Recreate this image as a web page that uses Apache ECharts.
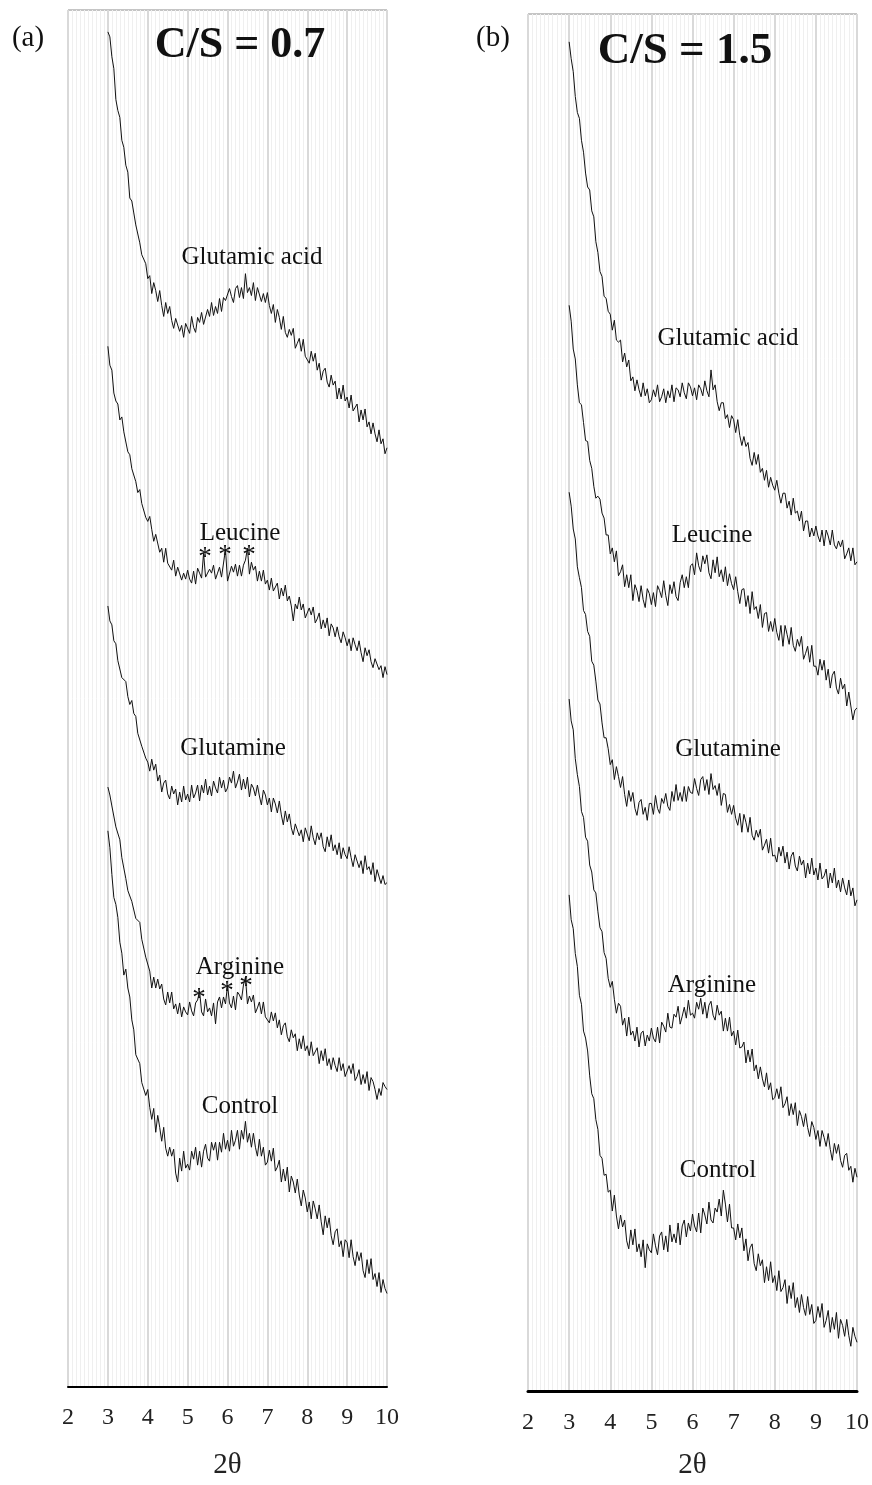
<!DOCTYPE html>
<html>
<head>
<meta charset="utf-8">
<script src="https://cdn.jsdelivr.net/npm/echarts@6/dist/echarts.min.js"></script>
<style>
  html, body { margin: 0; padding: 0; background: #fff; }
  #chart { width: 872px; height: 1485px; }
</style>
</head>
<body>
<div id="chart"></div>
<script>
// XRD scans, 2θ = 3.00 … 10.00 in 0.05° steps, intensity in arbitrary units (stacked)
const SCAN_START = 3.0, SCAN_STEP = 0.05, SCAN_POINTS = 141;
const twoTheta = Array.from({ length: SCAN_POINTS }, (_, i) => +(SCAN_START + i * SCAN_STEP).toFixed(2));
const xTicks = [2, 3, 4, 5, 6, 7, 8, 9, 10];

// ---- C/S = 0.7 ----
const glutamicA = [
1362,1357,1337,1325,1294,1283,1276,1253,1246,1228,1221,1195,1192,1180,1168,1167,1150,1138,1140,1129,
1114,1117,1099,1110,1102,1091,1102,1087,1076,1090,1079,1086,1072,1064,1074,1076,1061,1067,1055,1069,
1068,1059,1076,1065,1060,1075,1070,1080,1068,1066,1083,1076,1090,1077,1086,1079,1094,1081,1095,1092,
1090,1104,1096,1090,1104,1107,1095,1105,1094,1119,1100,1105,1097,1110,1092,1105,1107,1091,1099,1090,
1100,1087,1079,1088,1070,1083,1075,1063,1076,1060,1055,1063,1057,1064,1044,1049,1054,1041,1053,1036,
1037,1029,1041,1031,1039,1022,1029,1012,1021,1024,1010,1005,1017,1007,1011,993,1004,993,1007,991,
995,984,997,981,983,988,970,982,972,983,965,970,958,969,958,950,962,948,953,938,
944];
const leucineA = [
1046,1027,1022,999,991,988,972,975,960,959,940,937,923,924,910,899,902,888,889,874,
870,875,862,850,857,855,839,843,829,843,828,830,821,831,815,824,824,811,818,812,
821,812,808,820,807,823,818,813,838,814,813,822,818,826,812,818,824,814,814,842,
810,812,825,819,827,815,826,815,826,831,843,817,829,821,825,810,820,810,821,807,
811,801,813,800,802,808,792,803,795,806,790,795,785,770,787,782,794,781,787,773,
775,783,776,784,768,772,778,762,771,763,773,755,767,763,754,764,754,748,759,753,
745,752,740,753,746,740,750,738,729,743,735,741,729,723,732,734,721,725,713,724,
716];
const glutamineA = [
785,770,766,750,747,730,730,713,713,709,694,686,690,677,674,657,659,644,646,632,
628,619,631,620,626,609,615,598,607,610,596,591,604,596,601,585,598,588,604,590,
596,588,605,592,597,605,589,605,597,611,595,604,594,609,602,597,613,602,610,598,
602,613,607,619,602,608,616,600,611,601,613,593,606,602,594,605,594,585,600,595,
585,592,578,592,586,577,589,575,565,579,568,576,562,555,566,568,554,560,548,562,
560,549,564,552,545,557,550,557,543,538,553,543,555,539,545,535,547,531,542,535,
531,543,532,523,535,536,522,529,516,534,520,523,515,527,508,520,521,506,514,505,
507];
const arginineA = [
603,595,584,583,563,565,550,532,530,511,499,498,488,488,471,469,467,450,450,432,
433,418,401,412,401,410,400,405,390,384,397,386,397,380,385,375,386,372,382,377,
374,387,378,373,386,389,398,377,373,390,377,381,373,386,365,387,392,381,392,385,
404,386,381,393,379,397,394,389,404,412,385,393,387,394,376,381,387,375,387,372,
372,366,377,368,376,361,369,354,363,366,352,347,359,351,355,338,350,340,353,338,
343,333,347,333,335,341,325,338,328,340,323,330,319,331,323,317,331,318,325,312,
314,323,315,325,308,312,319,304,314,305,317,298,311,307,299,289,300,293,306,302,
299];
const controlA = [
559,542,515,492,485,472,447,436,414,420,401,392,369,359,334,334,325,306,305,293,
299,281,269,280,256,273,261,247,261,240,232,241,232,239,215,206,230,217,237,220,
224,218,237,229,241,223,237,221,237,244,230,227,246,238,246,228,246,236,255,239,
248,237,258,242,248,258,239,258,249,267,246,255,241,255,241,232,249,232,241,223,
226,238,227,240,217,221,228,206,219,207,221,196,212,206,195,209,193,182,198,190,
176,186,169,187,179,169,183,166,153,172,160,170,152,143,156,159,141,147,131,148,
145,130,148,131,122,136,127,135,117,110,128,114,129,108,114,101,115,95,108,99,
94];

// ---- C/S = 1.5 ----
const glutamicB = [
1357,1340,1327,1302,1286,1280,1258,1246,1225,1211,1208,1187,1181,1156,1145,1126,1121,1101,1099,1086,
1083,1067,1077,1057,1055,1057,1035,1044,1030,1037,1016,1020,1006,1017,1007,1000,1014,1001,1008,994,
997,1007,1000,1012,995,1000,1008,994,1006,999,1012,995,1009,1007,1000,1014,1004,998,1014,1010,
1001,1009,997,1012,1008,1001,1016,1006,1000,1027,1007,1012,995,986,994,994,978,982,969,981,
977,964,977,961,951,960,950,954,938,931,944,932,942,924,928,916,926,909,919,911,
906,916,903,893,903,903,888,895,881,898,883,885,875,885,865,875,875,859,868,860,
870,860,854,866,850,866,860,851,866,851,847,855,849,856,837,842,848,835,848,831,
834];
const leucineB = [
1092,1076,1048,1038,1012,994,992,974,956,955,936,928,910,898,900,897,883,878,861,861,
842,848,834,845,820,824,831,809,821,808,821,795,811,805,794,810,796,788,807,802,
791,803,789,810,805,798,815,800,790,811,802,814,799,795,813,821,808,819,808,830,
832,821,843,830,824,840,832,841,823,817,836,823,839,819,826,814,829,810,822,812,
806,819,804,792,806,807,789,800,782,804,786,789,777,791,768,782,783,764,774,764,
777,763,755,770,749,770,761,751,768,750,744,756,749,759,736,742,749,733,750,729,
729,720,736,725,735,715,726,707,720,724,707,701,717,706,711,689,703,689,675,685,
687];
const glutamineB = [
904,890,867,857,829,818,808,785,781,764,759,734,730,714,695,691,672,657,657,646,
630,635,615,628,618,607,618,600,588,604,593,602,586,579,592,595,580,587,574,591,
591,580,599,586,581,596,591,601,588,584,603,593,610,594,602,593,608,593,608,602,
601,616,606,599,615,618,604,615,600,621,605,609,599,611,589,601,600,582,590,580,
589,576,569,581,562,580,572,562,577,559,554,564,557,565,544,549,555,541,556,538,
539,532,547,538,548,531,542,525,538,542,528,523,538,529,534,516,531,520,536,519,
526,514,531,515,518,525,506,521,511,526,506,514,502,516,506,499,514,498,506,488,
494];
const arginineB = [
696,674,665,636,620,608,583,577,557,553,529,522,504,501,482,466,462,441,435,415,
406,412,394,380,390,387,368,375,357,376,358,362,352,366,346,360,362,347,358,352,
365,355,351,366,350,371,367,361,380,366,365,379,376,387,369,377,386,375,393,378,
380,375,391,384,395,379,391,375,388,392,378,373,388,378,382,362,375,362,376,357,
362,348,363,345,346,351,330,343,331,344,322,328,314,326,314,306,320,303,310,293,
295,304,294,306,285,289,296,277,289,278,290,267,282,276,266,279,265,256,271,265,
253,262,246,262,255,246,259,243,232,249,239,248,232,225,237,239,222,226,210,224,
215];
const controlB = [
499,474,465,440,427,398,389,362,355,342,317,299,294,273,263,237,234,217,218,200,
202,181,197,176,163,177,165,172,151,143,162,147,163,140,148,135,152,124,148,142,
139,158,146,137,156,160,142,156,140,167,150,158,149,169,147,166,172,155,169,161,
178,166,160,179,159,184,177,168,190,172,169,184,180,193,176,202,188,170,188,164,
164,152,168,154,164,141,153,131,144,148,128,121,138,126,132,109,125,111,130,109,
116,101,121,100,104,112,88,106,93,109,84,94,79,97,84,76,95,77,87,68,
71,85,74,88,64,71,81,59,74,62,79,53,72,66,55,72,56,45,64,55,
49];

const sampleNames = ['Glutamic acid', 'Leucine', 'Glutamine', 'Arginine', 'Control'];
const panelA = [glutamicA, leucineA, glutamineA, arginineA, controlA];
const panelB = [glutamicB, leucineB, glutamineB, arginineB, controlB];

const SERIF = "'Liberation Serif', 'Times New Roman', 'DejaVu Serif', serif";

function pairs(values) {
  return values.map((v, i) => [twoTheta[i], v]);
}

function xAxisFor(gridIndex, lineWidth, labelMargin, nameGap) {
  return {
    gridIndex, type: 'value', min: xTicks[0], max: xTicks[xTicks.length - 1], interval: 1,
    name: '2θ', nameLocation: 'middle', nameGap,
    nameTextStyle: { fontFamily: SERIF, fontSize: 29, color: '#222' },
    axisLine: { show: true, onZero: false, lineStyle: { color: '#000', width: lineWidth } },
    axisTick: { show: false },
    axisLabel: { fontFamily: SERIF, fontSize: 24, color: '#222', margin: labelMargin },
    splitLine: { show: true, lineStyle: { color: '#d9d9d9', width: 2 } },
    minorTick: { show: false, splitNumber: 10 },
    minorSplitLine: { show: true, lineStyle: { color: '#efefef', width: 1 } }
  };
}

function yAxisFor(gridIndex, top) {
  return { gridIndex, type: 'value', min: 0, max: top, show: false, splitLine: { show: false } };
}

function traces(panel, idx) {
  return panel.map((vals, k) => ({
    name: sampleNames[k], type: 'line', xAxisIndex: idx, yAxisIndex: idx,
    data: pairs(vals), showSymbol: false, symbol: 'none', silent: true,
    lineStyle: { color: '#111', width: 1 }
  }));
}

// centred text placed with the title component
function note(x, y, text, size, bold) {
  return {
    text, left: x, top: y, padding: 0, itemGap: 0,
    textAlign: 'center', textVerticalAlign: 'middle',
    textStyle: { fontFamily: SERIF, fontSize: size, fontWeight: bold ? 'bold' : 'normal', color: '#111' }
  };
}

const chart = echarts.init(document.getElementById('chart'), null, { renderer: 'canvas' });
chart.setOption({
  animation: false,
  backgroundColor: '#fff',
  grid: [
    { left: 68, top: 10, width: 319, height: 1384, show: true, borderColor: '#8a8a8a', borderWidth: 1, backgroundColor: 'transparent' },
    { left: 528, top: 14, width: 329, height: 1385, show: true, borderColor: '#8a8a8a', borderWidth: 1, backgroundColor: 'transparent' }
  ],
  xAxis: [xAxisFor(0, 2, 19, 64), xAxisFor(1, 3, 20, 60)],
  yAxis: [yAxisFor(0, 1384), yAxisFor(1, 1385)],
  series: [...traces(panelA, 0), ...traces(panelB, 1)],
  title: [
    note(28, 38, '(a)', 29),
    note(493, 38, '(b)', 29),
    note(240, 46, 'C/S = 0.7', 44, true),
    note(685, 51, 'C/S = 1.5', 45, true),

    note(252, 257, 'Glutamic acid', 25),
    note(240, 533, 'Leucine', 25),
    note(205, 558, '*', 27), note(225, 556, '*', 27), note(249, 556, '*', 27),
    note(233, 748, 'Glutamine', 25),
    note(240, 967, 'Arginine', 25),
    note(199, 999, '*', 27), note(227, 992, '*', 27), note(246, 987, '*', 27),
    note(240, 1106, 'Control', 25),

    note(728, 338, 'Glutamic acid', 25),
    note(712, 535, 'Leucine', 25),
    note(728, 749, 'Glutamine', 25),
    note(712, 985, 'Arginine', 25),
    note(718, 1170, 'Control', 25)
  ]
});
</script>
</body>
</html>
